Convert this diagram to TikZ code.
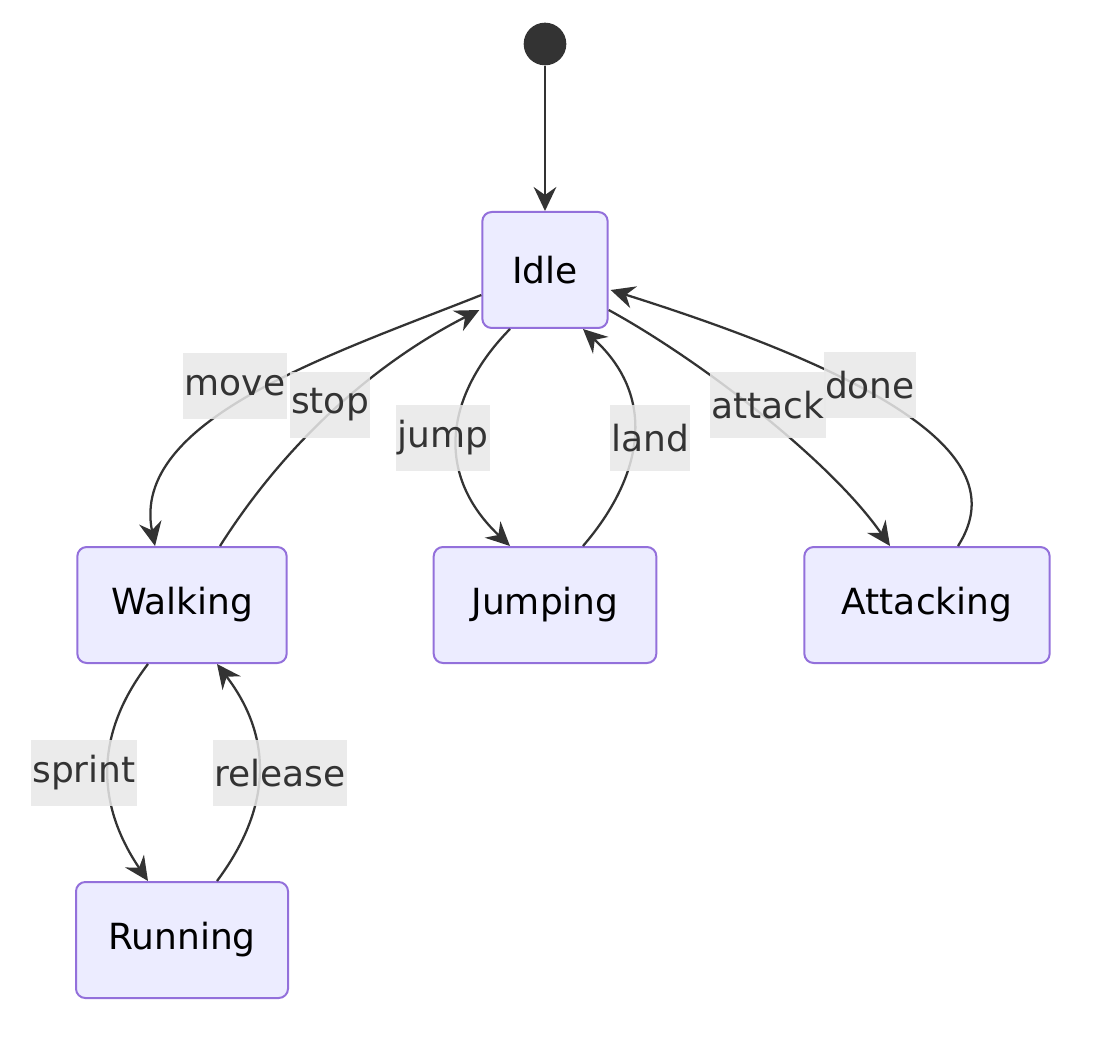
\documentclass[tikz,border=0pt]{standalone}
\usepackage{fontspec}
\setmainfont{DejaVu Sans}
\usetikzlibrary{calc,arrows.meta}
\definecolor{boxfill}{HTML}{ECECFF}
\definecolor{boxline}{HTML}{9370DB}
\definecolor{edge}{HTML}{333333}
\definecolor{lblbg}{HTML}{E8E8E8}
\begin{document}
\begin{tikzpicture}[x=0.75pt,y=-0.75pt,
  state/.style={draw=boxline,fill=boxfill,line width=1.5pt,rounded corners=7pt,minimum height=87pt,inner xsep=14pt,font=\fontsize{27}{30}\selectfont},
  arr/.style={draw=edge,line width=1.7pt,-{Stealth[length=18pt,width=17pt,inset=6pt]}},
  lbl/.style={fill=lblbg,fill opacity=0.85,text opacity=1,text=edge,inner xsep=1pt,minimum height=50pt,font=\fontsize{27}{30}\selectfont},
  idle/.style={}]
\useasboundingbox (0,0) rectangle (1098,1044);
\node[circle,fill=edge,minimum size=32pt,inner sep=0] (start) at (545,44) {};
\node[state,minimum width=94pt] (idle) at (545,270) {Idle};
\node[state,minimum width=157pt] (walk) at (182,605) {Walking};
\node[state,minimum width=167pt] (jump) at (545,605) {Jumping};
\node[state,minimum width=184pt] (att) at (927,605) {Attacking};
\node[state,minimum width=159pt] (run) at (182,940) {Running};
\draw[arr] (start) -- (idle);
% edges
\draw[arr] ($(idle.west)+(0,25)$) .. controls (330,355) and (130,420) .. ($(walk.north)+(-27,0)$);
\draw[arr] ($(walk.north)+(38,0)$) .. controls (300,420) and (400,350) .. ($(idle.west)+(-2,40)$);
\draw[arr] ($(idle.south)+(-35,0)$) .. controls (450,390) and (430,470) .. ($(jump.north)+(-35,0)$);
\draw[arr] ($(jump.north)+(38,0)$) .. controls (640,480) and (660,400) .. ($(idle.south)+(38,0)$);
\draw[arr] ($(idle.east)+(0,40)$) .. controls (700,360) and (830,460) .. ($(att.north)+(-37,0)$);
\draw[arr] ($(att.north)+(31,0)$) .. controls (1000,480) and (960,400) .. ($(idle.east)+(2,20)$);
\draw[arr] ($(walk.south)+(-34,0)$) .. controls (90,740) and (100,810) .. ($(run.north)+(-34,0)$);
\draw[arr] ($(run.north)+(35,0)$) .. controls (270,810) and (275,740) .. ($(walk.south)+(35,0)$);
% labels
\node[lbl] (lmove) at (235,386) {move};
\node[lbl] (lstop) at (330,405) {stop};
\node[lbl] (ljump) at (443,438) {jump};
\node[lbl] (lland) at (650,438) {land};
\node[lbl] (latt) at (768,405) {attack};
\node[lbl] (ldone) at (870,385) {done};
\node[lbl] (lsprint) at (84,773) {sprint};
\node[lbl] (lrel) at (280,773) {release};
\end{tikzpicture}
\end{document}
